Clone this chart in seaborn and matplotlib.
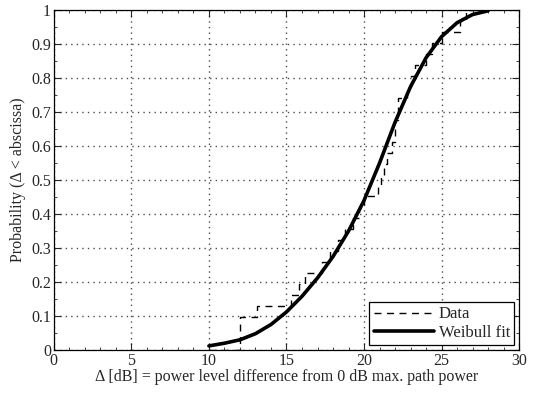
import matplotlib
matplotlib.use("Agg")
import matplotlib.pyplot as plt
import numpy as np
import pandas as pd
import seaborn as sns

data_x = [10.0, 12.0, 13.1, 15.3, 15.8, 16.2, 17.3, 17.8, 18.3, 18.8, 19.3, 19.7, 20.0,
          20.9, 21.1, 21.3, 21.5, 21.8, 22.0, 22.2, 22.8, 23.0, 23.3, 24.0, 24.4, 25.0,
          26.2, 26.6, 28.0]
data_y = [0.0, 0.097, 0.129, 0.161, 0.194, 0.226, 0.258, 0.290, 0.323, 0.355, 0.387, 0.419, 0.452,
          0.484, 0.516, 0.548, 0.581, 0.613, 0.677, 0.742, 0.774, 0.806, 0.839, 0.871, 0.903, 0.935,
          0.968, 1.0, 1.0]

# Weibull fit curve
fit_x = [10, 11, 12, 13, 14, 15, 16, 17, 18, 19, 20, 21, 22, 23, 24, 25, 26, 27, 28]
fit_y = [0.012, 0.02, 0.03, 0.048, 0.075, 0.112, 0.158, 0.212, 0.275, 0.35, 0.44, 0.55,
         0.67, 0.775, 0.86, 0.922, 0.963, 0.987, 0.998]

x_ticks = [0, 5, 10, 15, 20, 25, 30]
y_ticks = [0, 0.1, 0.2, 0.3, 0.4, 0.5, 0.6, 0.7, 0.8, 0.9, 1.0]
y_labels = ["0", "0.1", "0.2", "0.3", "0.4", "0.5", "0.6", "0.7", "0.8", "0.9", "1"]

sns.set_style("ticks")
plt.rcParams["font.family"] = ["Liberation Serif", "DejaVu Serif"]

data_df = pd.DataFrame({"x": data_x, "y": data_y})
fit_df = pd.DataFrame({"x": fit_x, "y": fit_y})

fig = plt.figure(figsize=(5.33, 3.98), dpi=100)
ax = fig.add_axes([0.101, 0.1206, 0.873, 0.854])

sns.lineplot(data=data_df, x="x", y="y", ax=ax, estimator=None, sort=False,
             drawstyle="steps-post", color="black", linestyle=(0, (5, 4)),
             linewidth=1.0, label="Data")
sns.lineplot(data=fit_df, x="x", y="y", ax=ax, estimator=None, sort=False,
             color="black", linewidth=2.6, label="Weibull fit")

ax.set_xlim(0, 30)
ax.set_ylim(0, 1)
ax.set_xticks(x_ticks)
ax.set_xticklabels([str(t) for t in x_ticks])
ax.set_yticks(y_ticks)
ax.set_yticklabels(y_labels)
ax.set_xticks(np.arange(0, 31, 1), minor=True)
ax.set_yticks(np.arange(0, 1.001, 0.05), minor=True)
ax.tick_params(which="both", direction="in", top=True, right=True, labelsize=11.5, pad=2)
ax.tick_params(which="major", length=5, width=0.8)
ax.tick_params(which="minor", length=2.5, width=0.6)
for s in ax.spines.values():
    s.set_linewidth(0.9)
    s.set_color("black")

ax.grid(True, which="major", linestyle=(0, (1, 3)), color="0.3", linewidth=1.0)

ax.set_xlabel("Δ [dB] = power level difference from 0 dB max. path power", fontsize=11.5, labelpad=0)
ax.set_ylabel("Probability (Δ < abscissa)", fontsize=11.5, labelpad=4)

leg = ax.legend(loc="lower right", fontsize=12, frameon=True, fancybox=False,
                edgecolor="black", framealpha=1, handlelength=3.6, borderaxespad=0.3,
                borderpad=0.25, labelspacing=0.15, handletextpad=0.3)
leg.get_frame().set_linewidth(0.9)

fig.savefig("out.png", dpi=100)
